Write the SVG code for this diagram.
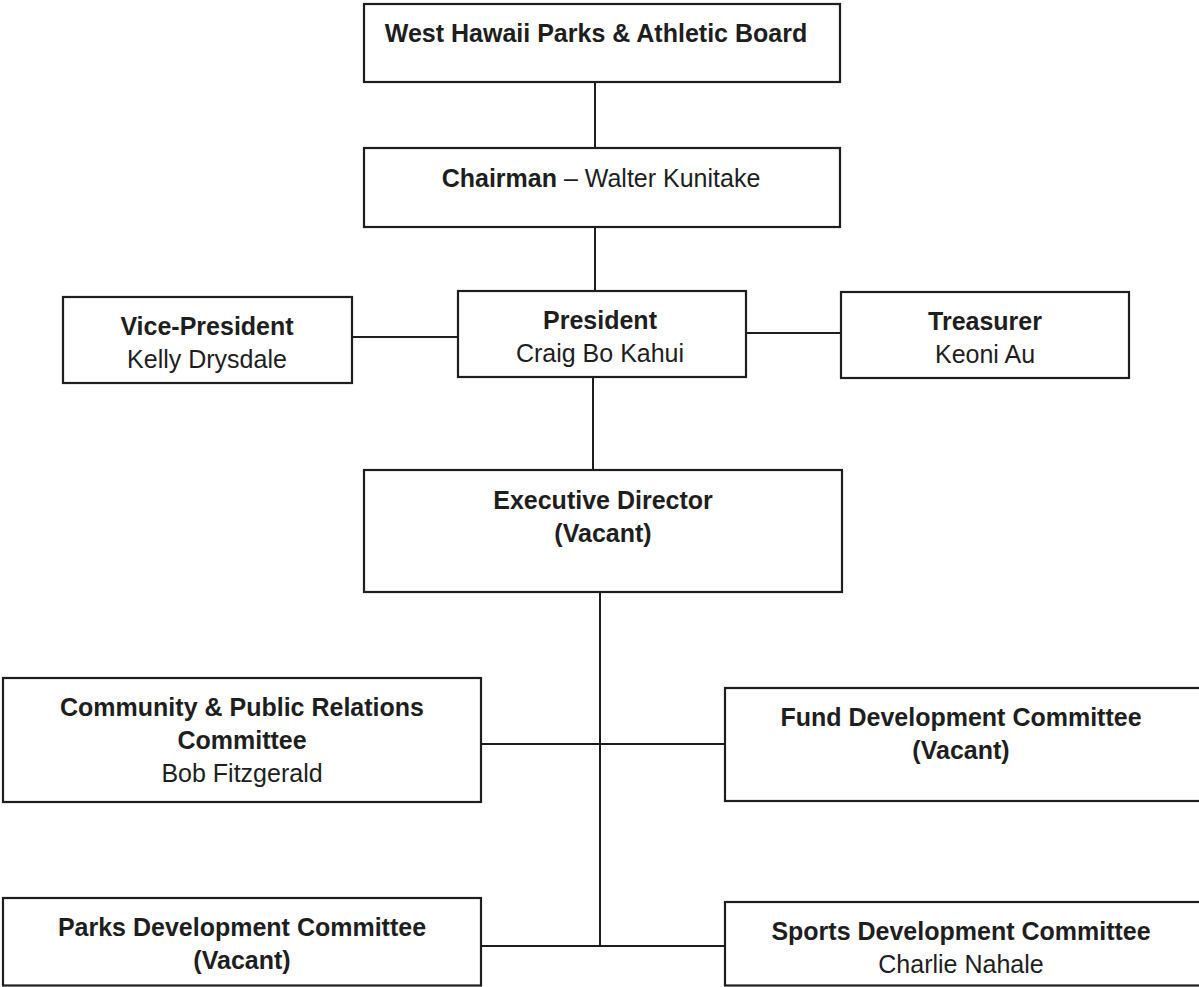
<svg xmlns="http://www.w3.org/2000/svg" width="1199" height="987" viewBox="0 0 1199 987">
<style>
.box{fill:#fff;stroke:#1e1e1e;stroke-width:2.2}
.ln{stroke:#1e1e1e;stroke-width:2;fill:none}
text{font-family:"Liberation Sans",Arial,sans-serif;font-size:25px;fill:#1e1e1e;text-anchor:middle}
.b{font-weight:bold}
</style>
<rect width="1199" height="987" fill="#fff"/>
<g id="connectors">
<line class="ln" x1="595" y1="82" x2="595" y2="148"/>
<line class="ln" x1="595" y1="227" x2="595" y2="291"/>
<line class="ln" x1="352" y1="337" x2="458" y2="337"/>
<line class="ln" x1="746" y1="333" x2="841" y2="333"/>
<line class="ln" x1="593" y1="377" x2="593" y2="470"/>
<line class="ln" x1="600" y1="592" x2="600" y2="946"/>
<line class="ln" x1="481" y1="744" x2="725" y2="744"/>
<line class="ln" x1="481" y1="946" x2="725" y2="946"/>
</g>
<g id="board">
<rect class="box" x="364" y="4" width="476" height="78"/>
<text class="b" x="596" y="42">West Hawaii Parks &amp; Athletic Board</text>
</g>
<g id="chairman">
<rect class="box" x="364" y="148" width="476" height="79"/>
<text x="601" y="187"><tspan class="b">Chairman</tspan> – Walter Kunitake</text>
</g>
<g id="vice-president">
<rect class="box" x="63" y="297" width="289" height="86"/>
<text class="b" x="207" y="335">Vice-President</text>
<text x="207" y="368">Kelly Drysdale</text>
</g>
<g id="president">
<rect class="box" x="458" y="291" width="288" height="86"/>
<text class="b" x="600" y="329">President</text>
<text x="600" y="362">Craig Bo Kahui</text>
</g>
<g id="treasurer">
<rect class="box" x="841" y="292" width="288" height="86"/>
<text class="b" x="985" y="330">Treasurer</text>
<text x="985" y="363">Keoni Au</text>
</g>
<g id="executive-director">
<rect class="box" x="364" y="470" width="478" height="122"/>
<text class="b" x="603" y="509">Executive Director</text>
<text class="b" x="603" y="542">(Vacant)</text>
</g>
<g id="community-pr">
<rect class="box" x="3" y="678" width="478" height="124"/>
<text class="b" x="242" y="716">Community &amp; Public Relations</text>
<text class="b" x="242" y="749">Committee</text>
<text x="242" y="782">Bob Fitzgerald</text>
</g>
<g id="fund-development">
<rect class="box" x="725" y="688" width="480" height="113"/>
<text class="b" x="961" y="726">Fund Development Committee</text>
<text class="b" x="961" y="759">(Vacant)</text>
</g>
<g id="parks-development">
<rect class="box" x="3" y="898" width="478" height="87.5"/>
<text class="b" x="242" y="936">Parks Development Committee</text>
<text class="b" x="242" y="969">(Vacant)</text>
</g>
<g id="sports-development">
<rect class="box" x="725" y="902" width="480" height="83.5"/>
<text class="b" x="961" y="940">Sports Development Committee</text>
<text x="961" y="973">Charlie Nahale</text>
</g>
</svg>
